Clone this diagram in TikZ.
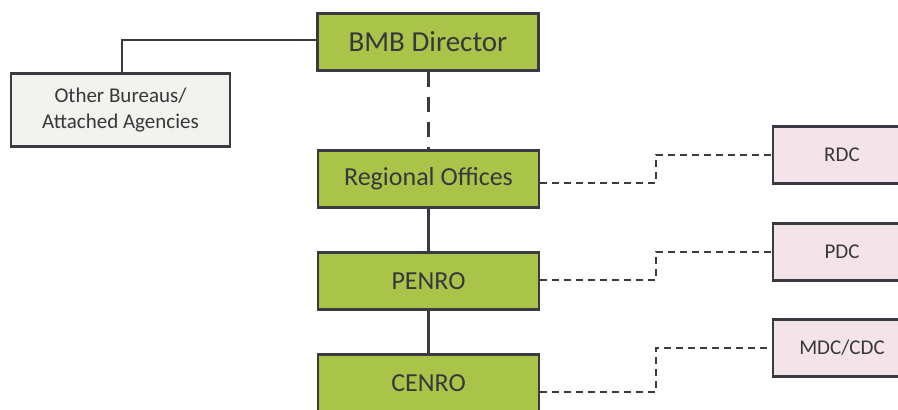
\documentclass[tikz,border=0pt]{standalone}
\usepackage{fontspec}
\setmainfont{Carlito}
\usepackage{tikz}
\definecolor{boxgreen}{RGB}{170,196,74}
\definecolor{boxpink}{RGB}{244,228,234}
\definecolor{boxgrey}{RGB}{242,242,238}
\definecolor{edgegrey}{RGB}{58,58,66}
\definecolor{textgrey}{RGB}{56,56,60}

\begin{document}
\begin{tikzpicture}[x=1pt, y=1pt,
    box/.style={draw=edgegrey, line width=2.6pt, text=textgrey, inner sep=0pt, align=center},
    mainbox/.style={box, fill=boxgreen, minimum width=221pt, minimum height=57pt, font=\fontsize{26}{30}\selectfont},
    sidebox/.style={box, fill=boxpink, minimum width=180pt, minimum height=57pt, font=\fontsize{21}{25}\selectfont},
    linkline/.style={edgegrey, line width=1.8pt, dash pattern=on 7pt off 5pt}]
    \useasboundingbox (0,0) rectangle (898,410);

    \node[mainbox, font=\fontsize{29}{33}\selectfont] (dir) at (428,368) {BMB Director};
    \node[box, fill=boxgrey, minimum width=219pt, minimum height=73pt, font=\fontsize{21}{26}\selectfont] (other) at (120.5,300) {Other Bureaus/\\Attached Agencies};
    \node[mainbox] (reg) at (428.5,231) {Regional Offices};
    \node[mainbox] (penro) at (428.5,129) {PENRO};
    \node[mainbox] (cenro) at (428.5,27) {CENRO};
    % side boxes run past the right edge, text kept at x=842
    \node[sidebox] (rdc) at (863,255) {RDC\hspace{42pt}};
    \node[sidebox] (pdc) at (863,158) {PDC\hspace{42pt}};
    \node[sidebox] (mdc) at (863,62) {MDC/CDC\hspace{42pt}};

    \draw[edgegrey, line width=1.6pt] ([yshift=2pt]dir.west) -| ([xshift=1.5pt]other.north);
    \draw[edgegrey, line width=3pt, dash pattern=on 15pt off 10pt] ([xshift=0.5pt]dir.south) -- ([xshift=0.5pt]dir.south |- reg.north);
    \draw[edgegrey, line width=2.8pt] (reg) -- (penro) (penro) -- (cenro);

    \draw[linkline] ([yshift=-4pt]reg.east) -- ++(116,0) |- (rdc.west);
    \draw[linkline] ([yshift=1pt]penro.east) -- ++(116,0) |- (pdc.west);
    \draw[linkline] ([yshift=-9pt]cenro.east) -- ++(116,0) |- (mdc.west);

  \end{tikzpicture}
\end{document}
